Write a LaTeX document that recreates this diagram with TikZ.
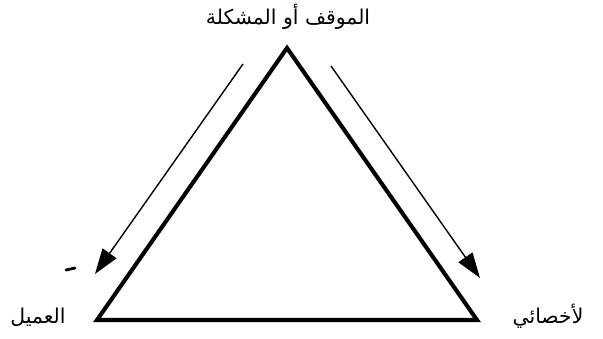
\documentclass[tikz,border=0pt]{standalone}
\usepackage{fontspec}
\newfontfamily\arabicfont[Script=Arabic]{DejaVu Sans}
\TeXXeTstate=1
\usetikzlibrary{arrows.meta, positioning}

\begin{document}
\begin{tikzpicture}[x=0.025cm, y=-0.025cm,
            lado/.style={line width=2.9pt, line join=miter, draw=black},
            flecha/.style={line width=1pt, -{Triangle[length=18pt, width=12pt]}, draw=black},
            etiqueta/.style={inner sep=0pt, font=\arabicfont\fontsize{14.5}{16}\selectfont},
            marca/.style={line width=2pt, line cap=round}
        ]
            \useasboundingbox (0,0) rectangle (603,339);

            % Vertices del triangulo
            \coordinate (arriba) at (287,48);
            \coordinate (izq) at (97,320);
            \coordinate (der) at (477,320);
            \draw [lado] (arriba) -- (izq) -- (der) -- cycle;

            % Etiquetas
            \node (mawqif) [etiqueta] at (288,17) {\beginR الموقف أو المشكلة\endR};
            \node (amil) [etiqueta] at (38,317) {\beginR العميل\endR};
            \node (akhissai) [etiqueta] at (548,316) {\beginR لأخصائي\endR};

            % Flechas
            \coordinate (ini_izq) at (243,64);
            \coordinate (fin_izq) at (95,274);
            \coordinate (ini_der) at (331,66);
            \coordinate (fin_der) at (480,278);
            \draw [flecha] (ini_izq) -- (fin_izq);
            \draw [flecha] (ini_der) -- (fin_der);

            % Trazo suelto
            \draw [marca] (66,270) -- (75,268);
        \end{tikzpicture}
\end{document}
